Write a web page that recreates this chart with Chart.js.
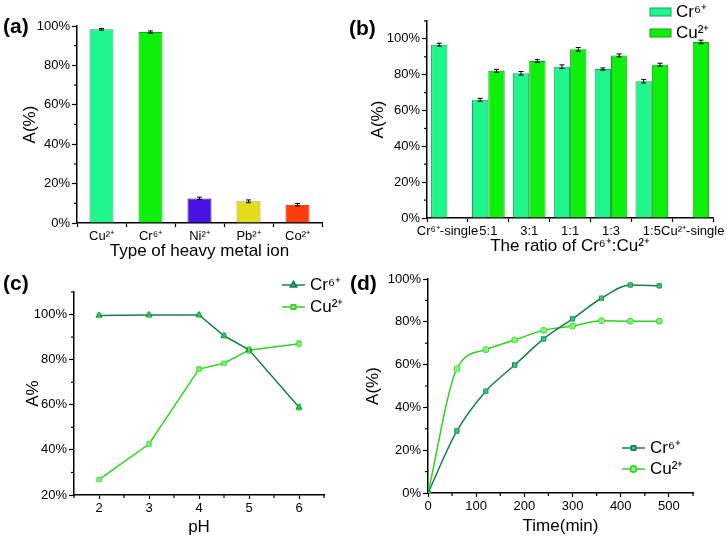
<!DOCTYPE html>
<html>
<head>
<meta charset="utf-8">
<script src="https://cdn.jsdelivr.net/npm/chart.js@4.4.0/dist/chart.umd.min.js"></script>
<style>
  body { margin: 0; background: #fff; }
  #fig { position: relative; width: 727px; height: 538px; overflow: hidden; font-family: "Liberation Sans", Arial, sans-serif; }
  .box { position: absolute; }
  .tag { position: absolute; font-weight: bold; font-size: 21px; line-height: 1; color: #000; }
</style>
</head>
<body>
<div id="fig">
  <div class="box" style="left:0;top:0;width:330px;height:262px"><canvas id="chartA"></canvas></div>
  <div class="box" style="left:330px;top:0;width:397px;height:262px"><canvas id="chartB"></canvas></div>
  <div class="box" style="left:330px;top:262px;width:397px;height:276px"><canvas id="chartD"></canvas></div>
  <div class="box" style="left:0;top:262px;width:400px;height:276px"><canvas id="chartC"></canvas></div>
  <div class="tag" style="left:3px;top:15px">(a)</div>
  <div class="tag" style="left:349px;top:17px">(b)</div>
  <div class="tag" style="left:3px;top:272px">(c)</div>
  <div class="tag" style="left:350px;top:272px">(d)</div>
</div>
<script>
// (a) removal of single heavy metal ions
const metalIons = ['Cu²⁺', 'Cr⁶⁺', 'Ni²⁺', 'Pb²⁺', 'Co²⁺'];
const metalRemoval = [98.3, 96.9, 12.5, 11.0, 9.3];
const metalErr = [0.4, 0.6, 0.6, 0.7, 0.6];

// (b) binary systems
const ratioLabels = ['Cr⁶⁺-single', '5:1', '3:1', '1:1', '1:3', '1:5', 'Cu²⁺-single'];
const ratioCr = [96.8, 66.0, 80.8, 84.5, 83.2, 76.4, null];
const ratioCu = [null, 82.2, 87.6, 94.2, 90.8, 85.6, 98.3];
const ratioCrErr = [0.8, 0.8, 1.0, 1.0, 0.6, 1.0, 0];
const ratioCuErr = [0, 0.8, 0.8, 1.0, 0.8, 0.8, 1.0];

// (c) effect of pH
const phValues = [2, 3, 4, 4.5, 5, 6];
const phCr = [99.6, 99.8, 99.8, 90.6, 84.4, 58.9];
const phCu = [26.8, 42.6, 75.8, 78.4, 84.2, 87.1];
const phCrErr = [0.8, 0.9, 0.9, 1.0, 1.0, 1.2];
const phCuErr = [0.8, 0.9, 1.2, 0.9, 1.5, 1.5];
const phTicks = [2, 3, 4, 5, 6];

// (d) contact time
const timeValues = [0, 60, 120, 180, 240, 300, 360, 420, 480];
const timeCr = [0, 29.0, 47.6, 59.8, 72.0, 81.4, 91.0, 97.2, 96.8];
const timeCu = [0, 58.0, 67.0, 71.5, 76.0, 78.0, 80.5, 80.3, 80.3];
const timeCrErr = [0, 1.0, 0.8, 1.2, 1.0, 1.0, 1.0, 0.6, 0.6];
const timeCuErr = [0, 1.2, 1.0, 1.2, 0.8, 0.6, 0.8, 0.6, 0.6];
const timeTicks = [0, 100, 200, 300, 400, 500];

const FONT = '"Liberation Sans", Arial, sans-serif';
const LIGHT = '#1ef68c', LIGHT_EDGE = '#1f9a5c';
const BRIGHT = '#0cf00c', BRIGHT_EDGE = '#14a014';
const DARK_LINE = '#14804f', GREEN_LINE = '#2ed41e';

Chart.defaults.font.family = FONT;
Chart.defaults.color = '#000';

const pair = (xs, ys) => xs.map((x, i) => ({ x: x, y: ys[i] }));

// short ticks between the labelled ones
const minorTicks = {
  id: 'minorTicks',
  afterDraw(chart, args, opts) {
    const ctx = chart.ctx;
    ctx.save();
    ctx.strokeStyle = '#000';
    ctx.lineWidth = 1.2;
    ['x', 'y'].forEach(id => {
      const step = opts[id];
      if (!step) return;
      const s = chart.scales[id];
      for (let k = Math.ceil(s.min / step - 1e-6); k * step <= s.max + 1e-6; k++) {
        if (k % 2 === 0) continue;
        const p = s.getPixelForValue(k * step);
        ctx.beginPath();
        if (id === 'y') { ctx.moveTo(s.right, p); ctx.lineTo(s.right - 3, p); }
        else { ctx.moveTo(p, s.top); ctx.lineTo(p, s.top + 3); }
        ctx.stroke();
      }
    });
    ctx.restore();
  }
};

const errorBars = {
  id: 'errorBars',
  afterDatasetsDraw(chart) {
    const ctx = chart.ctx, ys = chart.scales.y;
    ctx.save();
    chart.data.datasets.forEach((ds, i) => {
      if (!ds.errors) return;
      const meta = chart.getDatasetMeta(i);
      ctx.strokeStyle = ds.errorColor || '#000';
      ctx.lineWidth = 1;
      meta.data.forEach((el, j) => {
        const raw = ds.data[j];
        const v = raw !== null && typeof raw === 'object' ? raw.y : raw;
        const e = ds.errors[j];
        if (v === null || v === undefined || !e) return;
        const y1 = ys.getPixelForValue(v + e), y2 = ys.getPixelForValue(v - e);
        ctx.beginPath();
        ctx.moveTo(el.x, y1); ctx.lineTo(el.x, y2);
        ctx.moveTo(el.x - 2.5, y1); ctx.lineTo(el.x + 2.5, y1);
        ctx.moveTo(el.x - 2.5, y2); ctx.lineTo(el.x + 2.5, y2);
        ctx.stroke();
      });
    });
    ctx.restore();
  }
};

// legend drawn at a fixed spot, like the Origin one
const panelLegend = {
  id: 'panelLegend',
  afterDraw(chart, args, opts) {
    if (!opts.kind) return;
    const ctx = chart.ctx;
    ctx.save();
    ctx.font = '17px ' + FONT;
    ctx.textBaseline = 'middle';
    ctx.fillStyle = '#000';
    chart.data.datasets.forEach((ds, i) => {
      const y = opts.y + i * opts.gap;
      if (opts.kind === 'box') {
        ctx.fillStyle = ds.legendFill;
        ctx.fillRect(opts.x, y - 4, 21, 8);
        ctx.strokeStyle = ds.legendEdge;
        ctx.lineWidth = 1;
        ctx.strokeRect(opts.x, y - 4, 21, 8);
        ctx.fillStyle = '#000';
        ctx.fillText(ds.label, opts.x + 26, y);
      } else {
        ctx.strokeStyle = ds.borderColor;
        ctx.lineWidth = 1.5;
        ctx.beginPath();
        ctx.moveTo(opts.x, y); ctx.lineTo(opts.x + 23, y);
        ctx.stroke();
        ctx.fillStyle = ds.pointBackgroundColor;
        Chart.helpers.drawPoint(ctx, { pointStyle: ds.pointStyle, radius: ds.pointRadius, rotation: 0, borderWidth: 1 }, opts.x + 11.5, y);
        ctx.fill();
        ctx.stroke();
        ctx.fillStyle = '#000';
        ctx.fillText(ds.label, opts.x + 28, y);
      }
    });
    ctx.restore();
  }
};

function valueAxis(min, max, step, title, width, titlePad) {
  return {
    min: min, max: max,
    ticks: { stepSize: step, padding: 2, font: { size: 13 }, callback: v => v + '%' },
    grid: { drawOnChartArea: false, tickLength: 5, color: '#000', tickWidth: 1.2 },
    border: { color: '#000', width: 1.5 },
    title: { display: true, text: title, font: { size: 17 }, padding: { top: titlePad, bottom: 0 } },
    afterBuildTicks: s => { s.ticks = s.ticks.filter(t => Math.abs(t.value / step - Math.round(t.value / step)) < 1e-6); },
    afterFit: s => { s.width = width; }
  };
}

function baseAxis(title, height, titlePad, extra) {
  return Object.assign({
    ticks: { padding: 2, font: { size: 13 }, autoSkip: false, maxRotation: 0 },
    grid: { drawOnChartArea: false, tickLength: 4, color: '#000', tickWidth: 1.2 },
    border: { color: '#000', width: 1.5 },
    title: { display: true, text: title, font: { size: 17 }, padding: { top: 0, bottom: titlePad } },
    afterFit: s => { s.height = height; }
  }, extra || {});
}

const common = {
  responsive: true,
  maintainAspectRatio: false,
  animation: false,
  plugins: { legend: { display: false }, tooltip: { enabled: false } }
};

// (a)
new Chart(document.getElementById('chartA'), {
  type: 'bar',
  data: {
    labels: metalIons,
    datasets: [{
      data: metalRemoval,
      errors: metalErr,
      backgroundColor: [LIGHT, BRIGHT, '#4b12e6', '#e2dc1c', '#ff3c0c'],
      borderColor: [LIGHT_EDGE, BRIGHT_EDGE, '#2a0a70', '#a89a10', '#b02a08'],
      borderWidth: 1,
      barPercentage: 0.49,
      categoryPercentage: 1
    }]
  },
  options: Object.assign({}, common, {
    layout: { padding: { top: 26, right: 8, left: 0, bottom: 0 } },
    plugins: Object.assign({}, common.plugins, { minorTicks: { y: 10 } }),
    scales: {
      x: baseAxis('Type of heavy metal ion', 39, 0),
      y: valueAxis(0, 100, 20, 'A(%)', 77, 20)
    }
  }),
  plugins: [minorTicks, errorBars]
});

// (b)
new Chart(document.getElementById('chartB'), {
  type: 'bar',
  data: {
    labels: ratioLabels,
    datasets: [
      { label: 'Cr⁶⁺', data: ratioCr, errors: ratioCrErr, backgroundColor: LIGHT, borderColor: LIGHT_EDGE,
        legendFill: LIGHT, legendEdge: LIGHT_EDGE, borderWidth: 1, barPercentage: 1, categoryPercentage: 0.8 },
      { label: 'Cu²⁺', data: ratioCu, errors: ratioCuErr, backgroundColor: BRIGHT, borderColor: BRIGHT_EDGE,
        legendFill: BRIGHT, legendEdge: BRIGHT_EDGE, borderWidth: 1, barPercentage: 1, categoryPercentage: 0.8 }
    ]
  },
  options: Object.assign({}, common, {
    layout: { padding: { top: 21, right: 9, left: 0, bottom: 0 } },
    plugins: Object.assign({}, common.plugins, {
      minorTicks: { y: 10 },
      panelLegend: { kind: 'box', x: 320, y: 12, gap: 21 }
    }),
    scales: {
      x: baseAxis('The ratio of Cr⁶⁺:Cu²⁺', 44, 5),
      y: valueAxis(0, 110, 20, 'A(%)', 97, 38)
    }
  }),
  plugins: [minorTicks, errorBars, panelLegend]
});

// (c) - canvas is wider than the panel so the legend text is not cut
new Chart(document.getElementById('chartC'), {
  type: 'line',
  data: {
    datasets: [
      { label: 'Cr⁶⁺', data: pair(phValues, phCr), errors: phCrErr, errorColor: GREEN_LINE,
        borderColor: DARK_LINE, borderWidth: 1.5, pointStyle: 'triangle', pointRadius: 3.5,
        pointBackgroundColor: '#2fbf6a', pointBorderColor: DARK_LINE, pointBorderWidth: 1 },
      { label: 'Cu²⁺', data: pair(phValues, phCu), errors: phCuErr, errorColor: '#6cf06a',
        borderColor: GREEN_LINE, borderWidth: 1.5, pointStyle: 'rect', pointRadius: 3,
        pointBackgroundColor: '#9af58a', pointBorderColor: GREEN_LINE, pointBorderWidth: 1 }
    ]
  },
  options: Object.assign({}, common, {
    layout: { padding: { top: 30, right: 76, left: 0, bottom: 0 } },
    plugins: Object.assign({}, common.plugins, {
      minorTicks: { x: 0.5, y: 10 },
      panelLegend: { kind: 'line', x: 282, y: 23, gap: 22 }
    }),
    scales: {
      x: baseAxis('pH', 43, 0, {
        type: 'linear', min: 1.5, max: 6.5,
        ticks: { padding: 2, font: { size: 13 }, maxRotation: 0 },
        afterBuildTicks: s => { s.ticks = phTicks.map(v => ({ value: v })); }
      }),
      y: valueAxis(20, 110, 20, 'A%', 74, 23)
    }
  }),
  plugins: [minorTicks, errorBars, panelLegend]
});

// (d)
new Chart(document.getElementById('chartD'), {
  type: 'line',
  data: {
    datasets: [
      { label: 'Cr⁶⁺', data: pair(timeValues, timeCr), errors: timeCrErr, errorColor: '#2fbf6a',
        borderColor: DARK_LINE, borderWidth: 1.5, pointStyle: 'rect', pointRadius: 3,
        pointBackgroundColor: '#3fcf7a', pointBorderColor: DARK_LINE, pointBorderWidth: 1,
        tension: 0.4, cubicInterpolationMode: 'monotone' },
      { label: 'Cu²⁺', data: pair(timeValues, timeCu), errors: timeCuErr, errorColor: '#6cf06a',
        borderColor: GREEN_LINE, borderWidth: 1.5, pointStyle: 'circle', pointRadius: 3,
        pointBackgroundColor: '#9af58a', pointBorderColor: GREEN_LINE, pointBorderWidth: 1,
        tension: 0.4, cubicInterpolationMode: 'monotone' }
    ]
  },
  options: Object.assign({}, common, {
    layout: { padding: { top: 17, right: 34, left: 0, bottom: 0 } },
    plugins: Object.assign({}, common.plugins, {
      minorTicks: { x: 50, y: 10 },
      panelLegend: { kind: 'line', x: 292, y: 186, gap: 21 }
    }),
    scales: {
      x: baseAxis('Time(min)', 45, 1, {
        type: 'linear', min: 0, max: 550,
        ticks: { padding: 2, font: { size: 13 }, maxRotation: 0 },
        afterBuildTicks: s => { s.ticks = timeTicks.map(v => ({ value: v })); }
      }),
      y: valueAxis(0, 100, 20, 'A(%)', 98, 33)
    }
  }),
  plugins: [minorTicks, errorBars, panelLegend]
});
</script>
</body>
</html>
